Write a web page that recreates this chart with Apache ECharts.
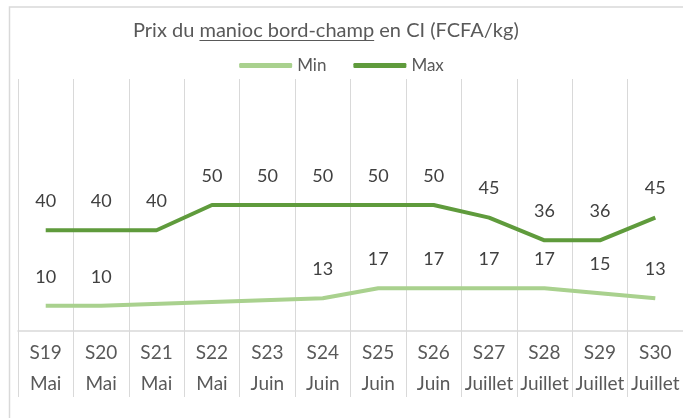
<!DOCTYPE html>
<html>
<head>
<meta charset="utf-8">
<script src="https://cdn.jsdelivr.net/npm/echarts@6/dist/echarts.min.js"></script>
<style>
  html, body { margin: 0; padding: 0; background: #fff; }
  #chart { width: 683px; height: 418px; }
</style>
</head>
<body>
<div id="chart"></div>
<script>
// semaines et mois
var weeks = ['S19', 'S20', 'S21', 'S22', 'S23', 'S24', 'S25', 'S26', 'S27', 'S28', 'S29', 'S30'];
var months = ['Mai', 'Mai', 'Mai', 'Mai', 'Juin', 'Juin', 'Juin', 'Juin', 'Juillet', 'Juillet', 'Juillet', 'Juillet'];

// prix (FCFA/kg)
var minPrix = [10, 10, null, null, null, 13, 17, 17, 17, 17, 15, 13];
var maxPrix = [40, 40, 40, 50, 50, 50, 50, 50, 45, 36, 36, 45];

var categories = [];
for (var i = 0; i < weeks.length; i++) {
  categories.push(weeks[i] + '\n' + months[i]);
}

var chart = echarts.init(document.getElementById('chart'));
var font = 'Lato';

// titre avec soulignement
var titleSize = 20;
var titleLeft = 133;
var ctx = document.createElement('canvas').getContext('2d');
ctx.font = titleSize + 'px ' + font;
var w1 = ctx.measureText('Prix du ').width;
var w2 = ctx.measureText('manioc bord-champ').width;

chart.setOption({
  animation: false,
  title: {
    text: 'Prix du manioc bord-champ en CI (FCFA/kg)',
    left: titleLeft,
    top: 21,
    padding: 0,
    textStyle: { fontFamily: font, fontSize: titleSize, fontWeight: 'normal', color: '#595959' }
  },
  legend: {
    top: 52,
    left: 'center',
    itemWidth: 53,
    itemHeight: 5,
    itemGap: 27,
    textStyle: { fontFamily: font, fontSize: 17, color: '#595959' },
    data: [{ name: 'Min', icon: 'roundRect' }, { name: 'Max', icon: 'roundRect' }]
  },
  graphic: [
    {
      type: 'rect',
      shape: { x: 9.5, y: 7, width: 700, height: 440 },
      style: { fill: 'none', stroke: '#d9d9d9', lineWidth: 1.5 },
      silent: true
    },
    {
      type: 'line',
      shape: { x1: titleLeft + w1, y1: 40.5, x2: titleLeft + w1 + w2, y2: 40.5 },
      style: { stroke: '#595959', lineWidth: 1 },
      silent: true
    }
  ],
  grid: { left: 18, right: 0, top: 79, bottom: 87 },
  xAxis: {
    type: 'category',
    data: categories,
    boundaryGap: true,
    axisLine: { lineStyle: { color: '#d9d9d9', width: 1.5 } },
    axisTick: { show: true, interval: 0, length: 66, lineStyle: { color: '#d9d9d9' } },
    splitLine: { show: true, interval: 0, lineStyle: { color: '#d9d9d9' } },
    axisLabel: {
      interval: 0,
      margin: 6,
      lineHeight: 31,
      fontFamily: font,
      fontSize: 19,
      color: '#595959'
    }
  },
  yAxis: {
    type: 'value',
    min: 0,
    max: 100,
    show: false,
    splitLine: { show: false }
  },
  series: [
    {
      name: 'Min',
      type: 'line',
      data: minPrix,
      connectNulls: true,
      symbol: 'circle',
      symbolSize: 0,
      color: '#a9d18e',
      lineStyle: { width: 4, color: '#a9d18e' },
      label: { show: true, position: 'top', distance: 20, fontFamily: font, fontSize: 18, color: '#404040' }
    },
    {
      name: 'Max',
      type: 'line',
      data: maxPrix,
      symbol: 'circle',
      symbolSize: 0,
      color: '#5f9b3c',
      lineStyle: { width: 4, color: '#5f9b3c' },
      label: { show: true, position: 'top', distance: 20, fontFamily: font, fontSize: 18, color: '#404040' }
    }
  ]
});
</script>
</body>
</html>
